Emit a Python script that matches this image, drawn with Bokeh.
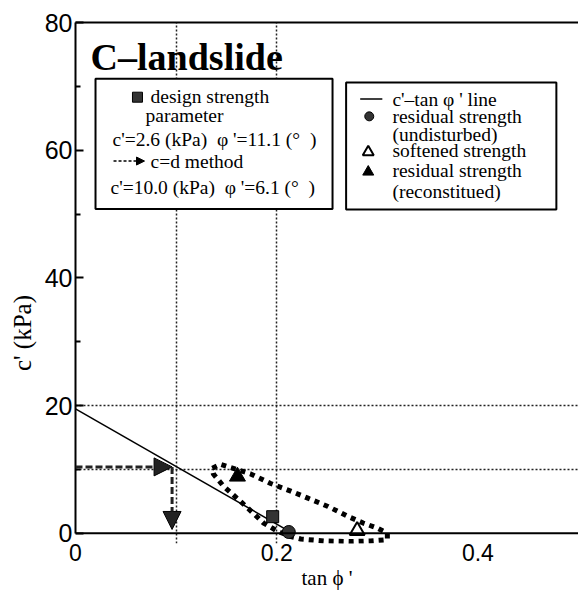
from bokeh.plotting import figure
from bokeh.models import (Range1d, LinearAxis, FixedTicker, Span, BoxAnnotation,
                          Label, Arrow, NormalHead)
from bokeh.embed import file_html
from bokeh.resources import INLINE

# ---------------- data ----------------
line_tan = [0.0, 0.216]          # c'-tan phi' line
line_c = [19.5, 0.0]
design_tan = [0.196]             # design strength parameter
design_c = [2.6]
resid_und_tan = [0.212]          # residual strength (undisturbed)
resid_und_c = [0.2]
soft_tan = [0.280]               # softened strength
soft_c = [0.4]
resid_rec_tan = [0.161]          # residual strength (reconstituted)
resid_rec_c = [8.9]
cd_c = [10.4]                    # c=d method: c
cd_tan = [0.096]                 # c=d method: tan phi
cd_end_c = [0.6]
zone_tan = [0.136, 0.144, 0.152, 0.174, 0.194, 0.214, 0.231, 0.251, 0.270, 0.286, 0.300, 0.310,
            0.310, 0.293, 0.273, 0.247, 0.224, 0.214, 0.201, 0.187, 0.177, 0.164, 0.147, 0.137, 0.136]
zone_c = [10.2, 10.8, 10.4, 9.3, 7.8, 6.6, 5.5, 4.2, 2.7, 1.6, 0.8, 0.0,
          -1.0, -1.2, -1.3, -1.2, -0.9, -0.5, 0.3, 1.6, 3.1, 5.0, 7.4, 9.3, 10.2]
x_ticks = [0, 0.2, 0.4]
x_tick_labels = ["0", "0.2", "0.4"]
y_ticks = [0, 20, 40, 60, 80]
y_minor = [10, 30, 50, 70]

SERIF = "Liberation Serif"
SANS = "Liberation Sans"

p = figure(width=578, height=592, x_range=Range1d(0, 0.5), y_range=Range1d(-1.6, 80),
           output_backend="svg", toolbar_location=None,
           min_border_left=75, min_border_right=0, min_border_top=22, min_border_bottom=0)
p.outline_line_color = None
p.background_fill_color = "white"

# grid
p.xgrid.ticker = FixedTicker(ticks=[0.1, 0.2])
p.ygrid.ticker = FixedTicker(ticks=[10, 20])
for g in (p.xgrid, p.ygrid):
    g.grid_line_color = "#222222"
    g.grid_line_dash = "2 2"
    g.grid_line_width = 1.5

# y axis
ya = p.yaxis[0]
ya.ticker = FixedTicker(ticks=y_ticks, minor_ticks=y_minor)
ya.bounds = (0, 80)
ya.axis_line_width = 2
ya.major_tick_in = 8
ya.major_tick_out = 0
ya.minor_tick_in = 5
ya.minor_tick_out = 0
ya.major_tick_line_width = 2
ya.minor_tick_line_width = 2
ya.major_label_text_font = SANS
ya.major_label_text_font_size = "25px"
ya.major_label_text_color = "black"
ya.major_label_standoff = 3
# trailing no-break spaces push the title below the axis centre, as in the reference
ya.axis_label = "c' (kPa)" + "\u00a0" * 16
ya.axis_label_text_font = SERIF
ya.axis_label_text_font_size = "25px"
ya.axis_label_text_font_style = "normal"
ya.axis_label_text_color = "black"
ya.axis_label_standoff = 6

# x axis
xa = p.xaxis[0]
xa.ticker = FixedTicker(ticks=x_ticks)
xa.major_label_overrides = {t: s for t, s in zip(x_ticks, x_tick_labels)}
xa.axis_line_color = None
xa.major_tick_in = 0
xa.major_tick_out = 0
xa.minor_tick_in = 0
xa.minor_tick_out = 0
xa.major_label_text_font = SANS
xa.major_label_text_font_size = "23px"
xa.major_label_text_color = "black"
xa.major_label_standoff = 0
xa.axis_label = "tan \u03d5 '"
xa.axis_label_text_font = SERIF
xa.axis_label_text_font_size = "21px"
xa.axis_label_text_font_style = "normal"
xa.axis_label_text_color = "black"
xa.axis_label_standoff = 2

# top frame line
top = LinearAxis(ticker=FixedTicker(ticks=[]), axis_line_width=2, major_tick_in=0, major_tick_out=0,
                 minor_tick_in=0, minor_tick_out=0, major_label_standoff=0)
p.add_layout(top, "above")
# zero line (bottom of the frame in the reference)
p.add_layout(Span(location=0, dimension="width", line_color="black", line_width=2))

# ---------------- data marks ----------------
p.line(line_tan, line_c, line_color="black", line_width=1.5)
p.line(zone_tan, zone_c, line_color="black", line_width=5, line_dash="5 5", line_cap="butt")
p.scatter(design_tan, design_c, marker="square", size=12, fill_color="#333333", line_color="black")
p.scatter(resid_und_tan, resid_und_c, marker="circle", size=13, fill_color="#333333", line_color="black")
p.scatter(soft_tan, soft_c, marker="triangle", size=15, fill_color="white", line_color="black", line_width=2)
p.scatter(resid_rec_tan, resid_rec_c, marker="triangle", size=16, fill_color="black", line_color="black")

p.add_layout(Arrow(end=NormalHead(size=18, fill_color="#222222", line_color="black"),
                   x_start=0, y_start=cd_c[0], x_end=cd_tan[0], y_end=cd_c[0],
                   line_dash="7 3", line_width=3, line_color="#222222"))
p.add_layout(Arrow(end=NormalHead(size=18, fill_color="#222222", line_color="black"),
                   x_start=cd_tan[0], y_start=cd_c[0], x_end=cd_tan[0], y_end=cd_end_c[0],
                   line_dash="7 3", line_width=3, line_color="#222222"))

# ---------------- title text ----------------
p.add_layout(Label(x=0.015, y=74.6, text="C\u2013landslide", text_font=SERIF,
                   text_font_size="38px", text_font_style="bold", text_color="black",
                   text_baseline="middle", text_align="left"))

# ---------------- left legend box ----------------
p.add_layout(BoxAnnotation(left=0.0199, right=0.2555, top=71.2, bottom=50.8, level="underlay",
                           fill_color="white", fill_alpha=1, line_color="black", line_alpha=1,
                           line_width=2))
p.scatter([0.0616], [68.3], marker="square", size=10, fill_color="#333333", line_color="black")
FS = "19.5px"
def lab(x, y, t):
    p.add_layout(Label(x=x, y=y, text=t, text_font=SERIF, text_font_size=FS, text_color="black",
                       text_baseline="middle", text_align="left"))
lab(0.0746, 68.4, "design strength")
lab(0.0696, 65.4, "parameter")
lab(0.0368, 61.6, "c'=2.6 (kPa)\u00a0\u00a0\u03c6 '=11.1 (\u00b0\u00a0\u00a0)")
p.add_layout(Arrow(end=NormalHead(size=8, fill_color="black", line_color="black"),
                   x_start=0.0378, y_start=58.3, x_end=0.0686, y_end=58.3,
                   line_dash="3 2", line_width=1.5, line_color="black"))
lab(0.0746, 58.3, "c=d method")
lab(0.0348, 54.1, "c'=10.0 (kPa)\u00a0\u00a0\u03c6 '=6.1 (\u00b0\u00a0\u00a0)")

# ---------------- right legend box ----------------
p.add_layout(BoxAnnotation(left=0.269, right=0.478, top=70.6, bottom=50.7, level="underlay",
                           fill_color="white", fill_alpha=1, line_color="black", line_alpha=1,
                           line_width=2))
p.line([0.283, 0.305], [68.0, 68.0], line_color="black", line_width=1.5)
p.scatter([0.292], [65.3], marker="circle", size=9, fill_color="#333333", line_color="black")
p.scatter([0.291], [59.7], marker="triangle", size=11, fill_color="white", line_color="black", line_width=2)
p.scatter([0.291], [56.6], marker="triangle", size=11, fill_color="black", line_color="black")
lab(0.315, 68.0, "c'\u2013tan \u03c6 ' line")
lab(0.315, 65.3, "residual strength")
lab(0.315, 62.5, "(undisturbed)")
lab(0.315, 59.9, "softened strength")
lab(0.315, 56.8, "residual strength")
lab(0.315, 53.6, "(reconstitued)")

open("out.html", "w").write(file_html(p, INLINE))
